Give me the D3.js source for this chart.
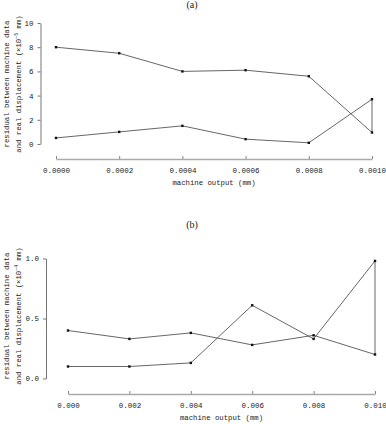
<!DOCTYPE html>
<html>
<head>
<meta charset="utf-8">
<script src="https://cdn.jsdelivr.net/npm/d3@7"></script>
<style>
  body { margin: 0; background: #fff; }
  svg text { font-family: "Liberation Mono", "DejaVu Sans Mono", monospace; fill: #222; }
</style>
</head>
<body>
<div id="chart"></div>
<script>
// panel (a) data
const xA = [0, 0.0002, 0.0004, 0.0006, 0.0008, 0.0010];
const aForward = [0.5, 1.0, 1.5, 0.4, 0.1, 3.7];
const aReturn = [8.0, 7.5, 6.0, 6.1, 5.6, 0.95];
const xTicksA = [0, 0.0002, 0.0004, 0.0006, 0.0008, 0.0010];
const yTicksA = [0, 2, 4, 6, 8, 10];

// panel (b) data
const xB = [0, 0.002, 0.004, 0.006, 0.008, 0.010];
const bForward = [0.1, 0.1, 0.13, 0.61, 0.33, 0.98];
const bReturn = [0.4, 0.33, 0.38, 0.28, 0.36, 0.2];
const xTicksB = [0, 0.002, 0.004, 0.006, 0.008, 0.010];
const yTicksB = [0, 0.5, 1.0];

const svg = d3.select("#chart").append("svg")
    .attr("width", 386)
    .attr("height", 424);

function panel(o) {
    const x = d3.scaleLinear().domain(o.xDomain).range([o.x0, o.x1]);
    const y = d3.scaleLinear().domain(o.yDomain).range([o.yBottom, o.yTop]);
    const g = svg.append("g");

    // panel title
    g.append("text")
        .attr("x", o.titleX).attr("y", o.titleY)
        .attr("text-anchor", "middle")
        .style("font-family", "'Liberation Serif', serif")
        .style("font-size", "10px")
        .text(o.title);

    // y axis
    const ya = g.append("g")
        .attr("transform", `translate(${o.yAxisX},0)`)
        .call(d3.axisLeft(y).tickValues(o.yTicks).tickFormat(o.yFmt).tickSizeInner(3).tickSizeOuter(0).tickPadding(4));
    ya.select(".domain").attr("stroke", "#777");
    ya.selectAll(".tick line").attr("stroke", "#777");
    ya.selectAll("text").style("font-size", "7.5px").style("font-family", "'Liberation Mono', monospace").attr("fill", "#222");

    // x axis
    const xa = g.append("g")
        .attr("transform", `translate(0,${o.xAxisY})`)
        .call(d3.axisBottom(x).tickValues(o.xTicks).tickFormat(o.xFmt).tickSizeInner(-3).tickSizeOuter(0).tickPadding(9));
    xa.select(".domain").attr("stroke", "#aaa").attr("stroke-width", 1.5);
    xa.selectAll(".tick line").attr("stroke", "#888");
    xa.selectAll("text").style("font-size", "7.5px").style("font-family", "'Liberation Mono', monospace").attr("fill", "#222");

    // x label
    g.append("text")
        .attr("x", (o.x0 + o.x1) / 2).attr("y", o.xLabelY)
        .attr("text-anchor", "middle")
        .style("font-size", "7.3px")
        .text("machine output (mm)");

    // y label, two lines rotated
    const yl = g.append("text")
        .attr("transform", `translate(${o.yLabelX},${o.yLabelY}) rotate(-90)`)
        .attr("text-anchor", "middle")
        .style("font-size", "7.3px");
    yl.append("tspan").attr("x", 0).attr("y", 0).text("residual between machine data");
    yl.append("tspan").attr("x", 0).attr("y", 12).text("and real displacement (\u00d710");
    yl.append("tspan").attr("dy", -3).style("font-size", "5px").text(o.exp);
    yl.append("tspan").attr("dy", 3).text(" mm)");

    // hysteresis loop: forward pass then return pass
    const pts = o.xs.map((v, i) => [v, o.fwd[i]])
        .concat(o.xs.map((v, i) => [v, o.ret[i]]).reverse());
    g.append("path")
        .datum(pts)
        .attr("fill", "none")
        .attr("stroke", "#555")
        .attr("stroke-width", 0.9)
        .attr("d", d3.line().x(d => x(d[0])).y(d => y(d[1])));

    g.selectAll("rect.pt")
        .data(pts)
        .enter().append("rect")
        .attr("class", "pt")
        .attr("x", d => x(d[0]) - 1.2)
        .attr("y", d => y(d[1]) - 1.2)
        .attr("width", 2.4)
        .attr("height", 2.4)
        .attr("fill", "#111");
}

panel({
    title: "(a)", titleX: 192, titleY: 8,
    xDomain: [0, 0.001], x0: 56, x1: 372,
    yDomain: [0, 10], yBottom: 144, yTop: 23,
    yAxisX: 40.5, xAxisY: 159,
    xTicks: xTicksA, yTicks: yTicksA,
    xFmt: d3.format(".4f"), yFmt: d3.format("d"),
    xLabelY: 185, yLabelX: 9, yLabelY: 84, exp: "\u22125",
    xs: xA, fwd: aForward, ret: aReturn
});

panel({
    title: "(b)", titleX: 192, titleY: 228,
    xDomain: [0, 0.01], x0: 68, x1: 375,
    yDomain: [0, 1], yBottom: 378.5, yTop: 258.5,
    yAxisX: 46, xAxisY: 394,
    xTicks: xTicksB, yTicks: yTicksB,
    xFmt: d3.format(".3f"), yFmt: d3.format(".1f"),
    xLabelY: 420, yLabelX: 9, yLabelY: 316, exp: "\u22124",
    xs: xB, fwd: bForward, ret: bReturn
});
</script>
</body>
</html>
